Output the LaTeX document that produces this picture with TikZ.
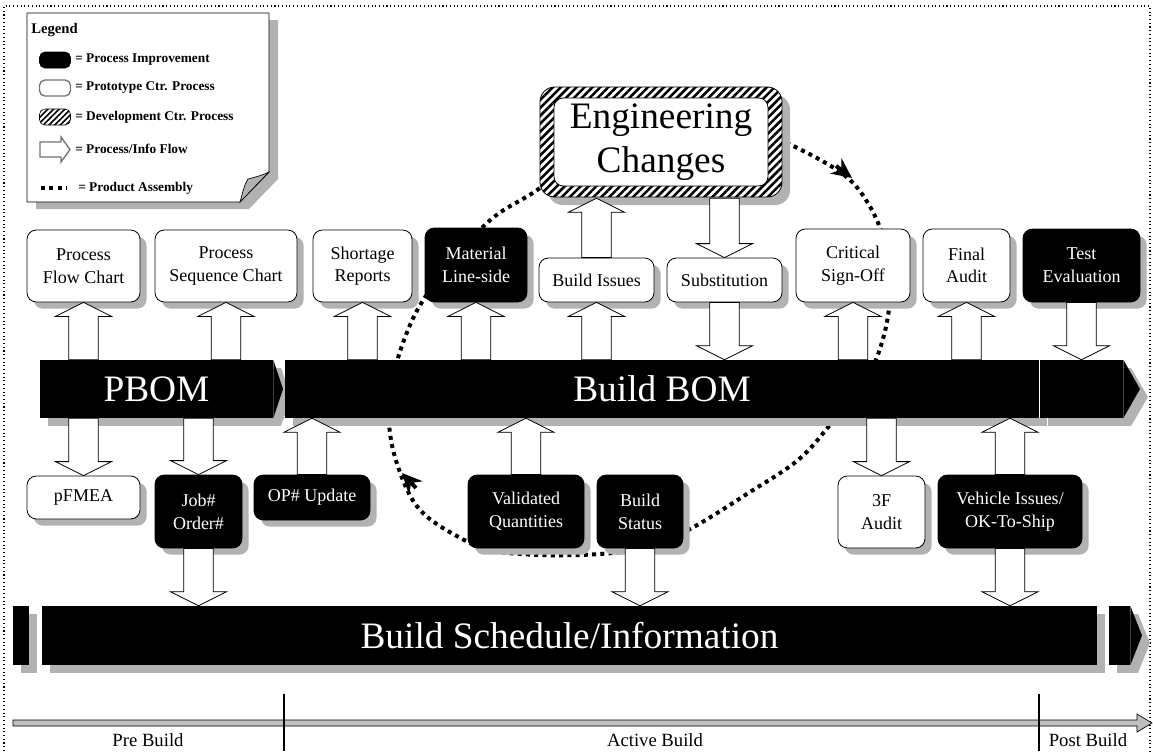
\documentclass[tikz,border=0pt]{standalone}
\usepackage{fontspec}
\setmainfont{Liberation Serif}
\usetikzlibrary{patterns.meta,calc,arrows.meta}
\definecolor{shadowc}{gray}{0.7}
\newcommand\myboxfont{\fontsize{13.5}{17}\selectfont}
\newcommand\mybarfont{\fontsize{28}{33}\selectfont}
\newcommand\mylegfont{\fontsize{10}{12}\selectfont\bfseries}
\newcommand\mylegtitle{\fontsize{11}{13}\selectfont\bfseries}
\newcommand\mytlfont{\fontsize{14}{16}\selectfont}
\newcommand\boxnode[7]{\node[#2, minimum width={(#5-#3)*0.75pt}, minimum height={(#6-#4)*0.75pt}] (#1) at ({(#3+#5)/2},{(#4+#6)/2}) {#7};}
\newcommand\flowshape[2]{let \p1=(#1), \p2=(#2), \n1={ifthenelse(\y2>\y1,1,-1)} in ({\x1-11pt},{\y1}) -- ({\x1-11pt},{\y2-\n1*10.5pt}) -- ({\x1-21pt},{\y2-\n1*10.5pt}) -- ({\x1},{\y2}) -- ({\x1+21pt},{\y2-\n1*10.5pt}) -- ({\x1+11pt},{\y2-\n1*10.5pt}) -- ({\x1+11pt},{\y1}) -- cycle}
\newcommand\flow[2]{\fill[shadowc, xshift=7pt] \flowshape{#1}{#2}; \path[flowbody] \flowshape{#1}{#2};}
\begin{document}
\begin{tikzpicture}[x=0.75pt, y=-0.75pt,
  myshadow/.style={preaction={draw=none, fill=shadowc, transform canvas={shift={(#1,-#1)}}}},
  box/.style={rounded corners=7pt, line width=0.6pt, align=center, inner sep=1pt, font=\myboxfont, myshadow=5pt},
  wbox/.style={box, draw=black, fill=white, text=black},
  bbox/.style={box, draw=black, fill=black, text=white},
  bar/.style={fill=black, text=white, font=\mybarfont, inner sep=0pt, myshadow=6pt},
  flowbody/.style={fill=white, draw=black, line width=0.6pt},
  assembly/.style={line width=3pt, dash pattern=on 3pt off 3.2pt},
  assemblytip/.style={line width=3pt, -{Stealth[length=15pt, width=14pt]}},
  legicon/.style={minimum width=23.25pt, minimum height=12pt, rounded corners=4pt, inner sep=0pt},
  legtext/.style={anchor=west, font=\mylegfont, inner sep=0pt},
  tltext/.style={font=\mytlfont, inner sep=0pt}
]
\useasboundingbox (0,0) rectangle (1153,751);
\draw[dotted, line width=0.8pt] (4,751) -- (4,6) -- (1150,6) -- (1150,751);

% product assembly loop
\draw[assembly] plot[smooth cycle, tension=0.6] coordinates {(660,108) (740,125) (785,142) (840,172) (866,200) (884,240) (890,290) (884,335) (866,380) (830,425) (798,460) (750,492) (688,530) (640,548) (600,554) (540,555) (490,550) (455,535) (423,513) (405,485) (391,440) (390,395) (404,340) (430,290) (487,223) (540,188) (600,140)};

% bars
\boxnode{pbom}{bar}{40}{360}{273}{418}{PBOM}
\fill[shadowc] (281,368) -- (291,397) -- (281,426) -- cycle;
\fill[black] (pbom.north east) -- (283,389) -- (pbom.south east) -- cycle;
\boxnode{bom}{bar}{285}{360}{1039}{418}{Build BOM}
\boxnode{bomend}{bar}{1040}{360}{1123}{418}{}
\fill[shadowc] (1131,368) -- (1148,397) -- (1131,426) -- cycle;
\fill[black] (bomend.north east) -- (1140,389) -- (bomend.south east) -- cycle;
\draw[white, line width=0.8pt] (bom.north east) -- (bom.south east);

\boxnode{schedl}{bar}{13}{606}{29}{665}{}
\boxnode{sched}{bar}{42}{606}{1097}{665}{Build Schedule/Information}
\boxnode{schedr}{bar}{1109}{606}{1130}{665}{}
\fill[shadowc] (1138,614) -- (1150,643) -- (1138,673) -- cycle;
\fill[black] (schedr.north east) -- (1142,635.5) -- (schedr.south east) -- cycle;

% upper boxes
\boxnode{pfc}{wbox}{27}{230}{140}{302}{Process\\Flow Chart}
\boxnode{psc}{wbox}{155}{230}{297}{302}{Process\\Sequence Chart}
\boxnode{shr}{wbox}{313}{230}{412}{302}{Shortage\\Reports}
\boxnode{mat}{bbox}{425}{228}{527}{302}{Material\\Line-side}
\boxnode{bis}{wbox}{539}{258}{654}{302}{Build Issues}
\boxnode{sub}{wbox}{667}{258}{782}{302}{Substitution}
\boxnode{crit}{wbox}{796}{229}{910}{302}{Critical\\Sign-Off}
\boxnode{fa}{wbox}{923}{229}{1010}{302}{Final\\Audit}
\boxnode{te}{bbox}{1023}{229}{1140}{302}{Test\\Evaluation}

% lower boxes
\boxnode{pfm}{wbox}{27}{476}{140}{519}{pFMEA}
\boxnode{job}{bbox}{155}{475}{242}{548}{Job\#\\Order\#}
\boxnode{op}{bbox}{254}{475}{370}{520}{OP\# Update}
\boxnode{val}{bbox}{468}{475}{584}{548}{Validated\\Quantities}
\boxnode{bst}{bbox}{597}{475}{683}{548}{Build\\Status}
\boxnode{tf}{wbox}{838}{476}{925}{548}{3F\\Audit}
\boxnode{veh}{bbox}{938}{475}{1082}{548}{Vehicle Issues/\\OK-To-Ship}

% engineering changes
\node[minimum width=181.5pt, minimum height=82.5pt, rounded corners=11pt, draw=black, line width=0.6pt,
  myshadow=6pt, preaction={fill=white}, pattern={Lines[angle=45,distance=4.2pt,line width=1.9pt]}, pattern color=black] (ec) at (661,142) {};
\node[minimum width=160.5pt, minimum height=66pt, rounded corners=7pt, draw=black, line width=0.6pt, fill=white,
  align=center, font=\mybarfont, inner sep=0pt] (ectext) at (ec.center) {Engineering\\Changes};

% flows, upper row
\flow{pfc |- pbom.north}{pfc.south}
\flow{psc |- pbom.north}{psc.south}
\flow{shr |- bom.north}{shr.south}
\flow{mat |- bom.north}{mat.south}
\flow{bis |- bom.north}{bis.south}
\flow{sub.south}{sub |- bom.north}
\flow{crit |- bom.north}{crit.south}
\flow{fa |- bom.north}{fa.south}
\flow{te.south}{te |- bomend.north}
\flow{bis.north}{bis |- ec.south}
\flow{sub |- ec.south}{sub.north}
% flows, lower row
\flow{pfm |- pbom.south}{pfm.north}
\flow{job |- pbom.south}{job.north}
\flow{op.north}{op |- bom.south}
\flow{val.north}{val |- bom.south}
\flow{bst.south}{bst |- sched.north}
\flow{tf |- bom.south}{tf.north}
\flow{veh.north}{veh |- bom.south}
\flow{veh.south}{veh |- sched.north}
\flow{job.south}{job |- sched.north}

% assembly arrow tips
\draw[assemblytip] (836,166) -- (852,178);
\draw[assemblytip] (416,488) -- (402,473);

% legend
\fill[shadowc] (36,20) -- (278,20) -- (278,179) -- (249,209) -- (36,209) -- cycle;
\filldraw[fill=white, draw=black, line width=0.6pt] (27,13) -- (269,13) -- (269,172) -- (240,202) -- (27,202) -- cycle;
\filldraw[fill=shadowc, draw=black, line width=0.5pt] (240,202) .. controls (243,192) and (244,185) .. (248,179) .. controls (256,177) and (263,175) .. (269,172) -- cycle;
\node[anchor=west, font=\mylegtitle, inner sep=0pt] (lgt) at (31,30) {Legend};
\node[legicon, fill=black, draw=black] (li1) at (55,60) {};
\node[legicon, fill=white, draw=black!55, line width=1pt] (li2) at (55,88) {};
\node[legicon, draw=black, preaction={fill=white}, pattern={Lines[angle=45,distance=3pt,line width=1.2pt]}, pattern color=black] (li3) at (55,117) {};
\filldraw[fill=white, draw=black!55, line width=1pt] (40,142) -- (61,142) -- (61,137) -- (70,149.5) -- (61,162) -- (61,157) -- (40,157) -- cycle;
\draw[assembly] (41,188) -- (66,188);
\node[legtext] (lg1) at (75,60) {= Process Improvement};
\node[legtext] (lg2) at (75,88) {= Prototype Ctr. Process};
\node[legtext] (lg3) at (75,117) {= Development Ctr. Process};
\node[legtext] (lg4) at (75,149) {= Process/Info Flow};
\node[legtext] (lg5) at (78,188) {= Product Assembly};

% timeline
\filldraw[fill=black!25, draw=black, line width=0.5pt] (13,720) -- (1137,720) -- (1137,714) -- (1152,723) -- (1137,732) -- (1137,726) -- (13,726) -- cycle;
\draw[line width=0.8pt] (284,694) -- (284,751);
\draw[line width=0.8pt] (1039,694) -- (1039,751);
\node[tltext] (pre) at (148,740) {Pre Build};
\node[tltext] (act) at (655,740) {Active Build};
\node[tltext] (post) at (1088,740) {Post Build};
\end{tikzpicture}
\end{document}
